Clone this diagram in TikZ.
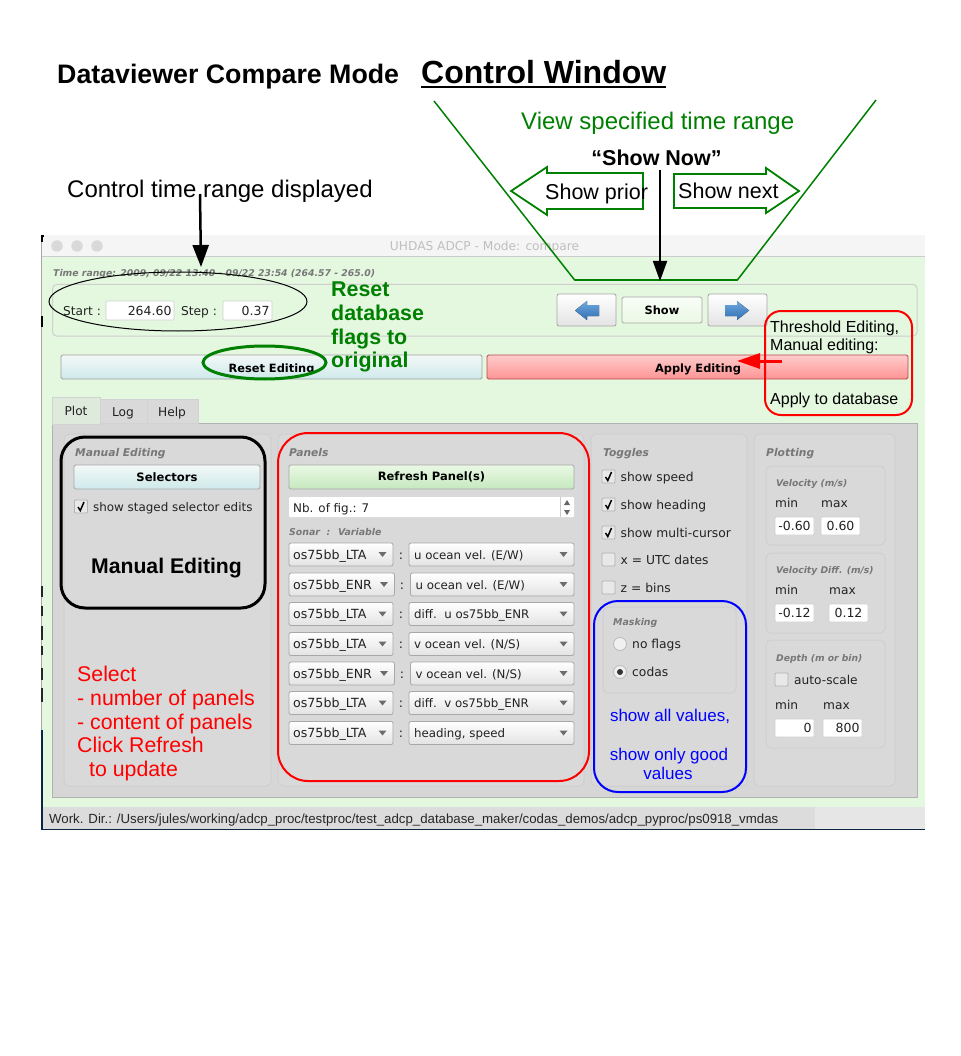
\documentclass[tikz,border=0pt]{standalone}
\usepackage{fontspec}
\setmainfont{Liberation Sans}
\newfontfamily\uifam{DejaVu Sans}
\usetikzlibrary{arrows.meta,shapes.geometric}
\definecolor{winbg}{HTML}{E4F7DF}
\definecolor{tabbg}{HTML}{D6D6D6}
\definecolor{grpbg}{HTML}{D9D9D9}
\definecolor{grpln}{HTML}{CFCFCF}
\definecolor{titlebg}{HTML}{F5F5F5}
\definecolor{statbg}{HTML}{DCDCDC}
\definecolor{uitext}{HTML}{222222}
\definecolor{uigrey}{HTML}{777777}
\definecolor{agreen}{HTML}{008000}
\definecolor{annored}{HTML}{FF0000}
\definecolor{annoblue}{HTML}{0000FF}
\definecolor{btnln}{HTML}{A8A8A8}
\definecolor{navy}{HTML}{0B2545}
\definecolor{icontop}{HTML}{6FA8DC}
\definecolor{iconbot}{HTML}{2F6FB5}
\definecolor{cyantop}{HTML}{F2F8F6}
\definecolor{cyanbot}{HTML}{CFE9EA}
\definecolor{greentop}{HTML}{EAF9E4}
\definecolor{greenbot}{HTML}{C5E8BF}
\newcommand\dn[1]{\raisebox{-1pt}{#1}}
\newcommand\cfs{12.5}
\newcommand\cdx{4}
\tikzset{
  txt/.style={inner sep=0,anchor=west,yshift=-1.5pt,execute at begin node=\vphantom{Ag}},
  fs/.style={font=\fontsize{#1}{#1}\selectfont},
  ui/.style={txt,text=uitext,font=\uifam\fontsize{#1}{#1}\selectfont},
  uib/.style={inner sep=0,yshift=-1.5pt,execute at begin node=\vphantom{Ag},text=black,font=\uifam\bfseries\fontsize{#1}{#1}\selectfont},
  grptitle/.style={txt,text=uigrey,font=\uifam\bfseries\itshape\fontsize{#1}{#1}\selectfont},
  sbox/.style={inner sep=0,rectangle},
  grp/.style={sbox,draw=grpln,line width=1pt,fill=grpbg,rounded corners=5pt},
  field/.style={sbox,fill=white,draw=grpln,line width=.7pt,rounded corners=1pt,text=uitext,font=\uifam\fontsize{12.5}{12.5}\selectfont},
  comboB/.style={sbox,draw=btnln,line width=.8pt,rounded corners=2pt,top color=white,bottom color=gray!22},
  anno/.style={sbox,line width=2pt,rounded corners=24pt},
  bluebtn/.style={sbox,draw=btnln,line width=.8pt,rounded corners=1.5pt,top color=cyantop,bottom color=cyanbot},
  greenbtn/.style={sbox,draw=btnln,line width=.8pt,rounded corners=1.5pt,top color=greentop,bottom color=greenbot},
  arrowicon/.style={draw=none,top color=icontop,bottom color=iconbot},
  chkbox/.style={sbox,minimum width=13pt,minimum height=13pt,draw=gray!60,line width=.8pt,fill=gray!18,rounded corners=1pt},
  radio/.style={circle,inner sep=0,minimum size=13pt,draw=gray!55,line width=.8pt,fill=gray!12},
  greenln/.style={draw=agreen,line width=1.5pt},
}
% name, style, x1, y1, x2, y2, text
\newcommand\bx[7]{\node[#2,minimum width={(#5)-(#3)},minimum height={(#6)-(#4)}] (#1) at ({((#3)+(#5))/2},{((#4)+(#6))/2}) {#7};}
% name, x1, y, x2, text
\newcommand\combo[5]{%
  \bx{#1}{comboB}{#2}{#3-11.5}{#4}{#3+11.5}{}
  \node[ui=\cfs] (#1t) at ({#2+\cdx},#3) {#5};
  \fill[gray!85!black] ({#4-14.5},{#3-2.5}) -- ({#4-6.5},{#3-2.5}) -- ({#4-10.5},{#3+2.5}) -- cycle;}
% name, x, y, text, checked(1/0)
\newcommand\chk[5]{%
  \bx{#1}{chkbox}{#2}{#3-6.5}{#2+13}{#3+6.5}{}
  \node[ui=\cfs] (#1t) at ({#2+18.5},#3) {#4};
  \ifnum#5=1 \draw[black,line width=1.5pt] ({#2+3.5},{#3+.5}) -- ({#2+5.8},{#3+4}) -- ({#2+9.5},{#3-4.5});\fi}
\begin{document}
\begin{tikzpicture}[x=1pt,y=-1pt]
\useasboundingbox (0,0) rectangle (960,1056);
\fill[white] (0,0) rectangle (960,1056);

%%% window
\bx{win}{sbox,fill=winbg}{41}{235}{925}{829}{}
\bx{titlebar}{sbox,fill=titlebg}{41}{235}{925}{256}{}
\draw[gray!40] (41,256.5) -- (925,256.5);
\foreach \cx/\nm in {57/a,77/b,97/c}{\node[circle,inner sep=0,minimum size=11.5pt,fill=gray!30] (dot\nm) at (\cx,246) {};}
\node[txt,anchor=center,text=gray!50,font=\uifam\fontsize{12.2}{12.2}\selectfont] (wintitle) at (484.5,246) {UHDAS ADCP - Mode: compare};
\bx{status}{sbox,fill=statbg}{41}{807}{925}{829}{}
\bx{statusb}{sbox,fill=statbg!70!white}{815}{807}{925}{829}{}
\node[txt,fs=13.25,text=black!85] (statustxt) at (49,818.5) {Work. Dir.: /Users/jules/working/adcp\_proc/testproc/test\_adcp\_database\_maker/codas\_demos/adcp\_pyproc/ps0918\_vmdas};
% left edge remnants
\draw[gray!70,line width=1pt] (41.5,235) -- (41.5,730);
\fill[black] (41,235) rectangle (44,237);
\fill[black] (41,235) rectangle (42.5,242);
\fill[black] (41,316) rectangle (42.5,327);
\foreach \ya/\yb in {586/597,606/616,626/640,646/655,668/680,688/702}{\fill[black!85] (41,\ya) rectangle (42.5,\yb);}
\fill[navy] (41,730) rectangle (42.5,829.5);
\fill[navy] (41,828.7) rectangle (925,829.7);

%%% top controls
\node[grptitle=9.3] (timerange) at (53,272) {Time range: 2009, 09/22 13:40 - 09/22 23:54 (264.57 - 265.0)};
\bx{topgrp}{sbox,draw=grpln,line width=1pt,rounded corners=4pt}{52.5}{284.5}{917}{336}{}
\renewcommand\cfs{12.2}
\node[ui=\cfs] (startl) at (63,311) {Start :};
\bx{startf}{field,align=right,text width=63pt}{106}{301}{174}{320}{\dn{264.60}}
\node[ui=\cfs] (stepl) at (181,311) {Step :};
\bx{stepf}{field,align=right,text width=44pt}{223}{301}{272}{320}{\dn{0.37}}
\bx{prevb}{comboB,draw=gray!70}{557}{294}{616}{326}{}
\fill[arrowicon] (575,310.5) -- (587,301) -- (587,305) -- (599,305) -- (599,316) -- (587,316) -- (587,320) -- cycle;
\bx{showb}{greenbtn,top color=white!70!greentop,bottom color=greentop}{622}{297}{702}{323}{\uifam\bfseries\fontsize{11.4}{11.4}\selectfont Show}
\bx{nextb}{comboB,draw=gray!70}{708}{294}{767}{326}{}
\fill[arrowicon] (749,310.5) -- (737,301) -- (737,305) -- (725,305) -- (725,316) -- (737,316) -- (737,320) -- cycle;
\bx{resetb}{bluebtn,draw=gray!75}{61}{355}{482}{379}{}
\node[uib=11.4] (resett) at (271.5,367.5) {Reset Editing};
\bx{applyb}{sbox,draw=red!45!gray,line width=.8pt,rounded corners=1.5pt,top color=red!20!white,bottom color=red!42!white}{487}{355}{908}{379}{}
\node[uib=11.4] (applyt) at (698,367.5) {Apply Editing};

%%% tabs
\bx{tabpanel}{sbox,fill=tabbg,draw=gray!60,line width=.8pt}{52.5}{423}{917}{797}{}
\bx{tabplot}{sbox,fill=winbg!60!tabbg,draw=gray!35,line width=.8pt}{52.5}{397}{100}{424}{}
\node[ui=12.2,anchor=center] (tabplott) at (76,411) {Plot};
\bx{tablog}{sbox,fill=grpbg,draw=gray!35,line width=.8pt}{100.5}{399}{147}{423}{}
\node[ui=12.2,anchor=center] (tablogt) at (123,412) {Log};
\bx{tabhelp}{sbox,fill=grpbg,draw=gray!35,line width=.8pt}{147}{399}{198}{423}{}
\node[ui=12.2,anchor=center] (tabhelpt) at (172,412) {Help};

%%% groups
\bx{gman}{grp}{64}{434}{271}{786}{}
\bx{gpan}{grp}{278}{434}{584}{786}{}
\bx{gtog}{grp}{591}{434}{747}{786}{}
\bx{gplo}{grp}{754}{434}{895}{786}{}
\node[grptitle=10.7] (gmant) at (75,452) {Manual Editing};
\node[grptitle=10.7] (gpant) at (289,452) {Panels};
\node[grptitle=10.7] (gtogt) at (603,452) {Toggles};
\node[grptitle=10.7] (gplot) at (766,452) {Plotting};

% manual editing
\bx{selb}{bluebtn}{74}{465}{260}{489}{\uifam\bfseries\fontsize{11.6}{11.6}\selectfont\raisebox{-1.5pt}{Selectors}}
\renewcommand\cfs{11.9}
\chk{stag}{74.5}{506.5}{show staged selector edits}{1}

% panels
\bx{refb}{greenbtn}{289}{465}{574}{489}{\uifam\bfseries\fontsize{11.5}{11.5}\selectfont\raisebox{-2pt}{Refresh Panel(s)}}
\bx{nbf}{sbox,fill=white,rounded corners=1pt}{289}{497}{574}{517}{}
\node[ui=11.9] (nbt) at (293,507.5) {Nb. of fig.: 7};
\draw[gray!40] (560,497) -- (560,517);
\fill[gray!80!black] (564,505) -- (570,505) -- (567,500) -- cycle;
\fill[gray!80!black] (564,510) -- (570,510) -- (567,515) -- cycle;
\node[grptitle=9.4] (sonart) at (289,531) {Sonar \ : \ Variable};
\renewcommand\cfs{12.6}
\combo{ca}{289}{554.5}{393}{os75bb\_LTA}
\combo{cb}{289}{584.5}{394.5}{os75bb\_ENR}
\combo{cc}{289}{614}{393}{os75bb\_LTA}
\combo{cd}{289}{644}{393}{os75bb\_LTA}
\combo{ce}{289}{673.5}{394.5}{os75bb\_ENR}
\combo{cf}{289}{703}{393}{os75bb\_LTA}
\combo{cg}{289}{733}{393}{os75bb\_LTA}
\foreach \yy/\xx/\nm in {554.5/401/a,584.5/402/b,614/401/c,644/401/d,673.5/402/e,703/401/f,733/401/g}{\node[ui=12.5,anchor=center] (col\nm) at (\xx,\yy) {:};}
\renewcommand\cfs{11.8}
\renewcommand\cdx{5}
\combo{da}{409}{554.5}{574}{u ocean vel. (E/W)}
\combo{db}{410.5}{584.5}{574}{u ocean vel. (E/W)}
\combo{dc}{409}{614}{574}{diff.\ \ u os75bb\_ENR}
\combo{dd}{409}{644}{574}{v ocean vel. (N/S)}
\combo{de}{410.5}{673.5}{574}{v ocean vel. (N/S)}
\combo{df}{409}{703}{574}{diff.\ \ v os75bb\_ENR}
\combo{dg}{409}{733}{574}{heading, speed}

% toggles
\renewcommand\cfs{12.3}
\chk{ta}{602}{476.5}{show speed}{1}
\chk{tb}{602}{504.5}{show heading}{1}
\chk{tc}{602}{532.5}{show multi-cursor}{1}
\chk{td}{602}{559.5}{x = UTC dates}{0}
\chk{te}{602}{587.5}{z = bins}{0}
\bx{gmask}{grp}{603}{607}{736}{693}{}
\node[grptitle=9.4] (maskt) at (613,621) {Masking};
\node[radio] (ra) at (620,644) {};
\node[ui=12.3] (rat) at (632,644) {no flags};
\node[radio] (rb) at (620,672) {};
\fill[black!80] (rb.center) circle (3pt);
\node[ui=12.3] (rbt) at (632,672) {codas};

% plotting
\bx{pa}{grp}{766}{466}{885}{545}{}
\node[grptitle=9.2] (pat) at (776,482) {Velocity (m/s)};
\node[ui=12.2] (pamin) at (775,503) {min};
\node[ui=12.2] (pamax) at (821,503) {max};
\bx{pafa}{field}{775}{517}{814}{535}{\dn{-0.60}}
\bx{pafb}{field}{821}{517}{860}{535}{\dn{0.60}}
\bx{pb}{grp}{766}{553}{885}{633}{}
\node[grptitle=9.2] (pbt) at (776,569) {Velocity Diff. (m/s)};
\node[ui=12.2] (pbmin) at (775,590) {min};
\node[ui=12.2] (pbmax) at (829,590) {max};
\bx{pbfa}{field}{775}{604}{814}{622}{\dn{-0.12}}
\bx{pbfb}{field}{829}{604}{868}{622}{\dn{0.12}}
\bx{pc}{grp}{766}{640}{885}{748}{}
\node[grptitle=9.2] (pct) at (776,657) {Depth (m or bin)};
\bx{pcc}{chkbox}{775}{673}{788}{686}{}
\node[ui=12.2] (pcct) at (794,680) {auto-scale};
\node[ui=12.2] (pcmin) at (775,705) {min};
\node[ui=12.2] (pcmax) at (823,705) {max};
\bx{pcfa}{field,align=right,text width=34pt}{775}{719}{814}{737}{\dn{0}}
\bx{pcfb}{field,align=right,text width=34pt}{823}{719}{862}{737}{\dn{800}}

%%% annotations
\node[txt,font=\bfseries\fontsize{26.75}{26.75}\selectfont] (title) at (57,75.5) {Dataviewer Compare Mode};
\node[txt,font=\bfseries\fontsize{32}{32}\selectfont] (ctrl) at (421,73.5) {Control Window};
\draw[black,line width=2pt] (ctrl.west |- 0,87) -- (ctrl.east |- 0,87);
\node[txt,text=agreen,fs=24] (view) at (521,122) {View specified time range};
\node[txt,anchor=center,font=\bfseries\fontsize{21.5}{21.5}\selectfont] (shownow) at (656.5,158) {“Show Now”};
\node[txt,fs=24] (ctrltime) at (67,190) {Control time range displayed};

% trapezoid
\coordinate (tl) at (434,101);
\coordinate (bl) at (575,280.5);
\coordinate (br) at (737,280.5);
\coordinate (tr) at (876,100);
\draw[greenln] (tl) -- (bl);
\draw[draw=agreen,line width=2pt] (bl) -- (br);
\draw[greenln] (br) -- (tr);

% prior/next outlines
\draw[greenln,line width=1.8pt] (511,191) -- (547,167) -- (547,173) -- (643,173) -- (643,209) -- (547,209) -- (547,215) -- cycle;
\draw[greenln,line width=1.8pt] (674,174) -- (766,174) -- (766,168) -- (799,191) -- (766,213) -- (766,208) -- (674,208) -- cycle;
\node[txt,fs=21.5] (prior) at (545,192.5) {Show prior};
\node[txt,fs=21.5] (next) at (678,191.5) {Show next};

% ellipses
\node[ellipse,draw=black,line width=1pt,inner sep=0,minimum width=258pt,minimum height=59pt] (timeell) at (178,301.5) {};
\node[ellipse,draw=agreen,line width=3pt,inner sep=0,minimum width=123pt,minimum height=33pt] (resetell) at (264.5,362.5) {};
\node[txt,text=agreen,font=\bfseries\fontsize{21.4}{21.4}\selectfont] (ra1) at (331,289.5) {Reset};
\node[txt,text=agreen,font=\bfseries\fontsize{21.4}{21.4}\selectfont] (ra2) at (331,313.5) {database};
\node[txt,text=agreen,font=\bfseries\fontsize{21.4}{21.4}\selectfont] (ra3) at (331,337.5) {flags to};
\node[txt,text=agreen,font=\bfseries\fontsize{21.4}{21.4}\selectfont] (ra4) at (331,361) {original};

% black arrows
\coordinate (arrA) at (200,194);
\coordinate (tipA) at (201,267);
\draw[black,line width=2.5pt,-{Triangle[length=22pt,width=16pt]}] (arrA) -- (tipA);
\coordinate (arrB) at (660,170);
\coordinate (tipB) at (660,281);
\draw[black,line width=1.8pt,-{Triangle[length=20pt,width=14pt]}] (arrB) -- (tipB);

% threshold
\bx{threshbox}{anno,draw=annored,rounded corners=16pt}{765}{311}{912}{415}{}
\node[txt,fs=16] (tha) at (770,327) {Threshold Editing,};
\node[txt,fs=16] (thb) at (770,345) {Manual editing:};
\node[txt,fs=16] (thc) at (770,398.5) {Apply to database};
\coordinate (arrC) at (782,361);
\coordinate (tipC) at (737,361);
\draw[annored,line width=3pt,-{Triangle[length=23pt,width=15pt]}] (arrC) -- (tipC);

% manual editing
\bx{manbox}{anno,draw=black,line width=3pt}{61}{437}{265}{608}{}
\node[txt,anchor=center,font=\bfseries\fontsize{21.2}{21.2}\selectfont] (manlab) at (166.5,567) {Manual Editing};
\node[txt,text=annored,fs=21.3] (sa) at (77,674.5) {Select};
\node[txt,text=annored,fs=21.3] (sb) at (77,698.5) {- number of panels};
\node[txt,text=annored,fs=21.3] (sc) at (77,722.5) {- content of panels};
\node[txt,text=annored,fs=21.3] (sd) at (77,745.5) {Click Refresh};
\node[txt,text=annored,fs=21.3] (se) at (89,769.5) {to update};

% panels box
\bx{panbox}{anno,draw=annored,line width=2pt,rounded corners=30pt}{278}{433}{589}{781}{}

% masking box
\bx{maskbox}{anno,draw=annoblue}{594}{601}{746}{792}{}
\node[txt,anchor=center,text=annoblue,fs=17] (ma) at (670,715.5) {show all values,};
\node[txt,anchor=center,text=annoblue,fs=17] (mb) at (669,754.5) {show only good};
\node[txt,anchor=center,text=annoblue,fs=17] (mc) at (668,773.5) {values};
\end{tikzpicture}
\end{document}
